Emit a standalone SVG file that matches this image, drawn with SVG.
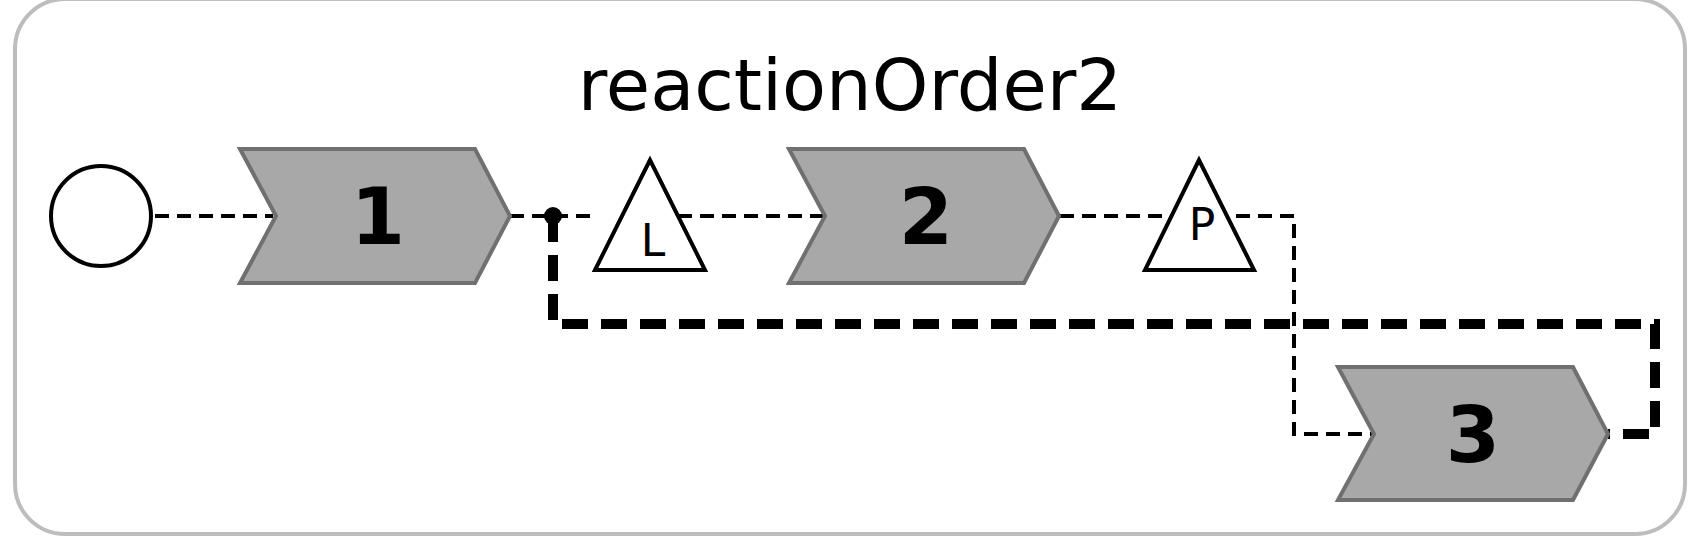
<svg xmlns="http://www.w3.org/2000/svg" width="1701" height="537" viewBox="0 0 1701 537">
<style>
.n{fill:#a8a8a8;stroke:#707070;stroke-width:4}
.t{fill:#fff;stroke:#000;stroke-width:4}
.lb{font-family:"DejaVu Sans",sans-serif;font-weight:bold;font-size:78px;text-anchor:middle}
.sl{font-family:"DejaVu Sans",sans-serif;font-size:44px;text-anchor:middle}
.c{fill:none;stroke:#000;stroke-width:4;stroke-dasharray:14,8}
</style>
<rect x="15" y="-1" width="1670" height="535" rx="50" fill="#fff" stroke="#bdbdbd" stroke-width="4"/>
<text x="850" y="110" font-family="DejaVu Sans,sans-serif" font-size="72" text-anchor="middle">reactionOrder2</text>
<g id="connectors">
<path class="c" d="M155 216H273"/>
<path class="c" d="M510 216H595"/>
<path class="c" d="M678 216H825"/>
<path class="c" d="M1060 216H1294V434H1374" stroke-width="3.5"/>
<path d="M553 216V324H1655V434H1608" fill="none" stroke="#000" stroke-width="10" stroke-dasharray="26,13"/>
<circle cx="553" cy="216" r="9"/>
</g>
<g id="source"><circle cx="101" cy="216" r="50" fill="#fff" stroke="#000" stroke-width="4"/></g>
<g id="node1"><polygon class="n" points="240,149 475,149 510,216 475,283 240,283 276,216"/><text class="lb" x="378" y="244">1</text></g>
<g id="node2"><polygon class="n" points="789,149 1024,149 1059,216 1024,283 789,283 825,216"/><text class="lb" x="926" y="244">2</text></g>
<g id="node3"><polygon class="n" points="1338,367 1573,367 1608,434 1573,500 1338,500 1374,434"/><text class="lb" x="1473" y="462">3</text></g>
<g id="L"><polygon class="t" points="650,160 595,270 705,270"/><text class="sl" x="653" y="256">L</text></g>
<g id="P"><polygon class="t" points="1199,160 1145,270 1254,270"/><text class="sl" x="1202" y="240">P</text></g>
</svg>
